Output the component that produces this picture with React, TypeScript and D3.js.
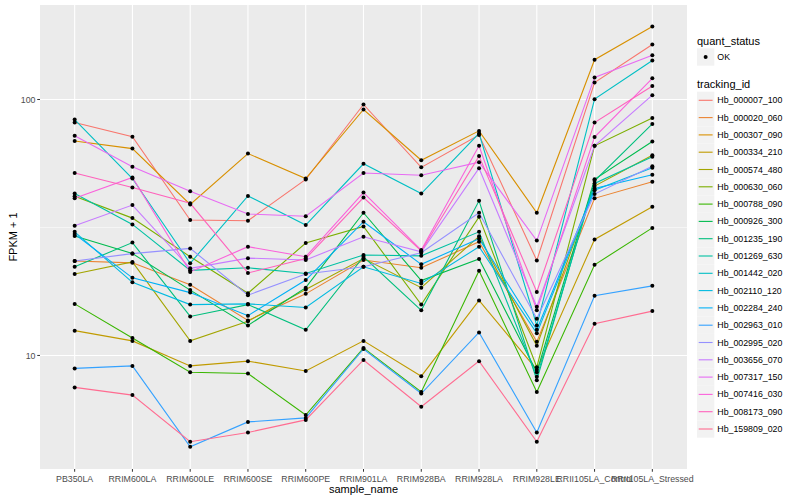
import * as d3 from "d3";
import { useEffect, useRef } from "react";

const samples = [
  "PB350LA",
  "RRIM600LA",
  "RRIM600LE",
  "RRIM600SE",
  "RRIM600PE",
  "RRIM901LA",
  "RRIM928BA",
  "RRIM928LA",
  "RRIM928LE",
  "RRII105LA_Control",
  "RRII105LA_Stressed",
];

const trackingIds = [
  "Hb_000007_100",
  "Hb_000020_060",
  "Hb_000307_090",
  "Hb_000334_210",
  "Hb_000574_480",
  "Hb_000630_060",
  "Hb_000788_090",
  "Hb_000926_300",
  "Hb_001235_190",
  "Hb_001269_630",
  "Hb_001442_020",
  "Hb_002110_120",
  "Hb_002284_240",
  "Hb_002963_010",
  "Hb_002995_020",
  "Hb_003656_070",
  "Hb_007317_150",
  "Hb_007416_030",
  "Hb_008173_090",
  "Hb_159809_020",
];

// FPKM + 1, one row per tracking_id, one value per sample
const hb000007 = [81.3, 71.5, 33.8, 33.6, 48.7, 95.6, 54.3, 72.6, 23.5, 116.5, 164];
const hb000020 = [23.4, 23.0, 18.9, 13.7, 17.4, 23.6, 22.0, 27.8, 11.3, 41.1, 47.7];
const hb000307 = [68.8, 64.3, 38.9, 61.5, 49.1, 91.4, 57.9, 75.4, 36.1, 143, 193];
const hb000334 = [12.5, 11.4, 9.1, 9.5, 8.7, 11.4, 8.3, 16.4, 8.8, 28.4, 38.1];
const hb000574 = [20.8, 23.2, 11.4, 13.6, 18.1, 23.9, 18.4, 29.2, 10.9, 45.9, 60.6];
const hb000630 = [41.9, 34.4, 24.3, 17.5, 27.5, 31.9, 15.8, 34.8, 9.0, 65.9, 84.6];
const hb000788 = [15.9, 11.7, 8.6, 8.5, 5.85, 10.7, 7.2, 21.4, 7.2, 22.6, 31.5];
const hb000926 = [29.3, 25.0, 18.0, 13.1, 18.4, 36.1, 19.6, 23.8, 8.6, 48.8, 68.5];
const hb001235 = [22.2, 27.6, 14.2, 15.8, 12.6, 24.3, 15.0, 40.2, 8.0, 48.1, 80.3];
const hb001269 = [42.9, 32.5, 21.5, 22.0, 20.9, 24.7, 24.5, 30.4, 8.25, 47.0, 59.7];
const hb001442 = [83.5, 49.1, 22.9, 42.0, 32.3, 56.1, 42.9, 73.7, 13.1, 100.3, 142];
const hb002110 = [30.4, 19.3, 15.8, 15.9, 15.4, 22.2, 19.1, 26.6, 12.2, 44.2, 54.1];
const hb002284 = [29.8, 20.1, 17.6, 14.3, 19.7, 33.3, 22.7, 28.6, 12.6, 44.9, 50.8];
const hb002963 = [8.9, 9.1, 4.4, 5.5, 5.7, 10.6, 7.1, 12.3, 5.0, 17.1, 18.7];
const hb002995 = [23.4, 25.0, 26.2, 17.2, 20.8, 22.2, 25.2, 36.1, 13.9, 42.7, 54.9];
const hb003656 = [32.1, 38.7, 21.9, 24.0, 23.6, 29.1, 25.4, 53.9, 15.5, 65.9, 104];
const hb007317 = [72.1, 54.6, 43.8, 35.7, 35.0, 51.6, 50.6, 56.9, 28.1, 122, 149];
const hb007416 = [41.1, 49.6, 21.2, 26.6, 24.3, 43.3, 25.8, 65.9, 15.0, 71.3, 121];
const hb008173 = [51.6, 45.3, 39.3, 21.0, 23.9, 41.4, 25.6, 60.1, 17.7, 81.3, 113];
const hb159809 = [7.5, 7.0, 4.6, 5.0, 5.6, 9.6, 6.3, 9.5, 4.6, 13.3, 14.9];

const seriesValues = [
  hb000007, hb000020, hb000307, hb000334, hb000574,
  hb000630, hb000788, hb000926, hb001235, hb001269,
  hb001442, hb002110, hb002284, hb002963, hb002995,
  hb003656, hb007317, hb007416, hb008173, hb159809,
];

const yTicks = [10, 100];
const yMinor = [Math.sqrt(10), Math.sqrt(1000), Math.sqrt(100000)];

// ggplot2 hue palette for 20 levels
const palette = [
  "#F8766D", "#EA8331", "#D89000", "#C09B00", "#A3A500",
  "#7CAE00", "#39B600", "#00BB4E", "#00BF7D", "#00C1A3",
  "#00BFC4", "#00BAE0", "#00B0F6", "#35A2FF", "#9590FF",
  "#C77CFF", "#E76BF3", "#FA62DB", "#FF62BC", "#FF6C91",
];

const W = 800;
const H = 500;
const FONT = "'Liberation Sans', Arial, sans-serif";

export default function App() {
  const svgRef = useRef<SVGSVGElement>(null);

  useEffect(() => {
    if (!svgRef.current) return;
    const svg = d3.select(svgRef.current);
    svg.selectAll("*").remove();

    const panel = { left: 40, right: 687, top: 5, bottom: 469 };

    const x = d3
      .scalePoint<string>()
      .domain(samples)
      .range([panel.left, panel.right])
      .padding(0.6);
    const y = d3.scaleLog().domain([3.6, 234]).range([panel.bottom, panel.top]);

    svg
      .append("rect")
      .attr("x", panel.left)
      .attr("y", panel.top)
      .attr("width", panel.right - panel.left)
      .attr("height", panel.bottom - panel.top)
      .attr("fill", "#EBEBEB");

    // grid
    svg
      .append("g")
      .selectAll("line")
      .data(yMinor.filter((v) => v > 3.6 && v < 234))
      .join("line")
      .attr("x1", panel.left)
      .attr("x2", panel.right)
      .attr("y1", (d) => y(d))
      .attr("y2", (d) => y(d))
      .attr("stroke", "#fff")
      .attr("stroke-width", 0.55);

    svg
      .append("g")
      .selectAll("line")
      .data(yTicks)
      .join("line")
      .attr("x1", panel.left)
      .attr("x2", panel.right)
      .attr("y1", (d) => y(d))
      .attr("y2", (d) => y(d))
      .attr("stroke", "#fff")
      .attr("stroke-width", 1.1);

    svg
      .append("g")
      .selectAll("line")
      .data(samples)
      .join("line")
      .attr("x1", (d) => x(d)!)
      .attr("x2", (d) => x(d)!)
      .attr("y1", panel.top)
      .attr("y2", panel.bottom)
      .attr("stroke", "#fff")
      .attr("stroke-width", 1.1);

    // lines
    const line = d3
      .line<number>()
      .x((_, i) => x(samples[i])!)
      .y((d) => y(d));

    svg
      .append("g")
      .selectAll("path")
      .data(seriesValues)
      .join("path")
      .attr("d", (d) => line(d))
      .attr("fill", "none")
      .attr("stroke", (_, i) => palette[i])
      .attr("stroke-width", 1.1);

    // points
    const pts = seriesValues.flatMap((vals) =>
      vals.map((v, i) => ({ s: samples[i], v }))
    );
    svg
      .append("g")
      .selectAll("circle")
      .data(pts)
      .join("circle")
      .attr("cx", (d) => x(d.s)!)
      .attr("cy", (d) => y(d.v))
      .attr("r", 2)
      .attr("fill", "#000");

    // axes
    const axisColor = "#4D4D4D";
    const yAxis = svg.append("g");
    yTicks.forEach((t) => {
      yAxis
        .append("line")
        .attr("x1", panel.left - 2.75)
        .attr("x2", panel.left)
        .attr("y1", y(t))
        .attr("y2", y(t))
        .attr("stroke", "#333")
        .attr("stroke-width", 1);
      yAxis
        .append("text")
        .attr("x", panel.left - 4.5)
        .attr("y", y(t))
        .attr("dy", "0.35em")
        .attr("text-anchor", "end")
        .attr("font-family", FONT)
        .attr("font-size", 8.8)
        .attr("fill", axisColor)
        .text(String(t));
    });

    const xAxis = svg.append("g");
    samples.forEach((s) => {
      xAxis
        .append("line")
        .attr("x1", x(s)!)
        .attr("x2", x(s)!)
        .attr("y1", panel.bottom)
        .attr("y2", panel.bottom + 2.75)
        .attr("stroke", "#333")
        .attr("stroke-width", 1);
      xAxis
        .append("text")
        .attr("x", x(s)!)
        .attr("y", panel.bottom + 12.5)
        .attr("text-anchor", "middle")
        .attr("font-family", FONT)
        .attr("font-size", 8.8)
        .attr("fill", axisColor)
        .text(s);
    });

    svg
      .append("text")
      .attr("x", (panel.left + panel.right) / 2)
      .attr("y", 493)
      .attr("text-anchor", "middle")
      .attr("font-family", FONT)
      .attr("font-size", 11)
      .attr("fill", "#000")
      .text("sample_name");

    svg
      .append("text")
      .attr("transform", `translate(17,${(panel.top + panel.bottom) / 2}) rotate(-90)`)
      .attr("text-anchor", "middle")
      .attr("font-family", FONT)
      .attr("font-size", 11)
      .attr("fill", "#000")
      .text("FPKM + 1");

    // legend
    const lg = svg.append("g").attr("transform", "translate(697,0)");
    const keySize = 17.3;

    lg.append("text")
      .attr("x", 0)
      .attr("y", 45)
      .attr("font-family", FONT)
      .attr("font-size", 11)
      .text("quant_status");
    lg.append("rect")
      .attr("x", 0)
      .attr("y", 57 - keySize / 2)
      .attr("width", keySize)
      .attr("height", keySize)
      .attr("fill", "#F2F2F2");
    lg.append("circle")
      .attr("cx", keySize / 2)
      .attr("cy", 57)
      .attr("r", 2)
      .attr("fill", "#000");
    lg.append("text")
      .attr("x", keySize + 3)
      .attr("y", 57)
      .attr("dy", "0.35em")
      .attr("font-family", FONT)
      .attr("font-size", 8.8)
      .text("OK");

    lg.append("text")
      .attr("x", 0)
      .attr("y", 88)
      .attr("font-family", FONT)
      .attr("font-size", 11)
      .text("tracking_id");

    const keys = lg
      .append("g")
      .selectAll("g")
      .data(trackingIds)
      .join("g")
      .attr("transform", (_, i) => `translate(0,${100.3 + i * keySize})`);
    keys
      .append("rect")
      .attr("x", 0)
      .attr("y", -keySize / 2)
      .attr("width", keySize)
      .attr("height", keySize)
      .attr("fill", "#F2F2F2");
    keys
      .append("line")
      .attr("x1", 1.7)
      .attr("x2", keySize - 1.7)
      .attr("y1", 0)
      .attr("y2", 0)
      .attr("stroke", (_, i) => palette[i])
      .attr("stroke-width", 1.1);
    keys
      .append("text")
      .attr("x", keySize + 3)
      .attr("y", 0)
      .attr("dy", "0.35em")
      .attr("font-family", FONT)
      .attr("font-size", 8.8)
      .text((d) => d);
  }, []);

  return (
    <div style={{ position: "fixed", left: 0, top: 0 }}>
      <svg ref={svgRef} width={W} height={H} style={{ display: "block", background: "#fff" }} />
    </div>
  );
}
